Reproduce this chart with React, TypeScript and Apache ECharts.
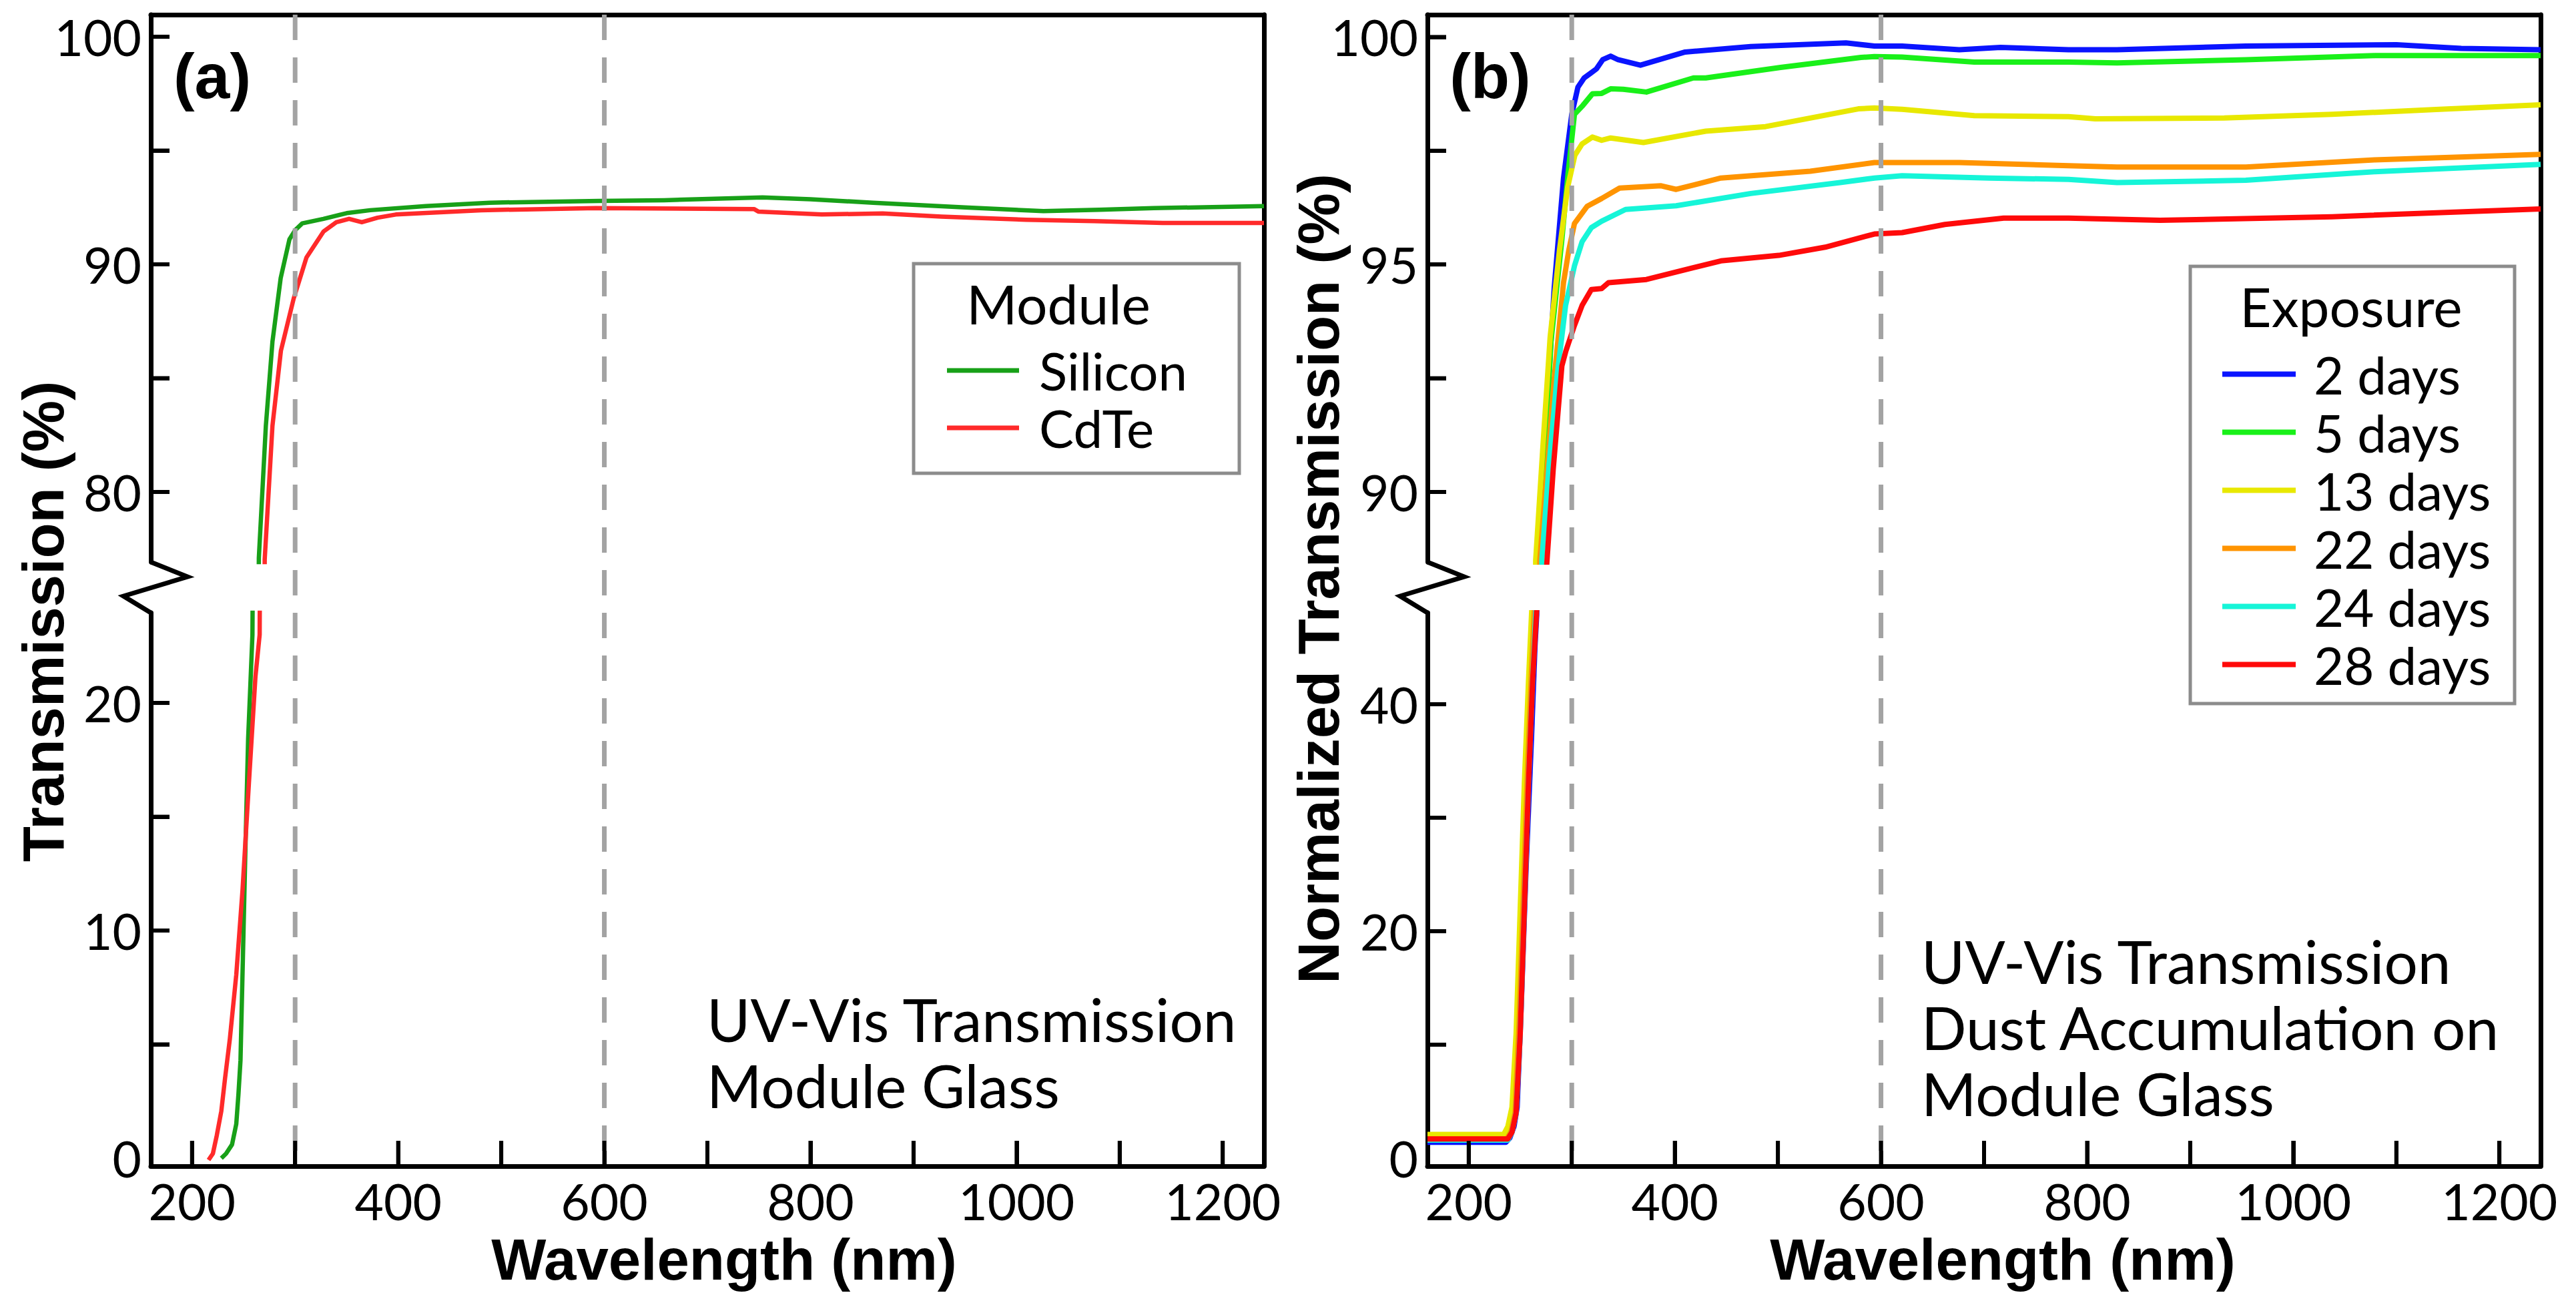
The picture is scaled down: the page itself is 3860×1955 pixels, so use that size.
import React, { useEffect, useRef } from "react";
import * as echarts from "echarts";

// ---------------- data ----------------
const wavelengthRange = [160, 1240];
const wavelengthTicks = [200, 300, 400, 500, 600, 700, 800, 900, 1000, 1100, 1200];
const wavelengthLabels = [200, 400, 600, 800, 1000, 1200];
const markerWavelengths = [300, 600];

const panelAUpperRange = [76.92, 100.97];
const panelAUpperTicks = [80, 85, 90, 95, 100];
const panelAUpperLabels = [80, 90, 100];
const panelALowerRange = [-0.35, 23.96];
const panelALowerTicks = [5, 10, 15, 20];
const panelALowerLabels = [0, 10, 20];

const panelBUpperRange = [88.46, 100.49];
const panelBUpperTicks = [90, 92.5, 95, 97.5, 100];
const panelBUpperLabels = [90, 95, 100];
const panelBLowerRange = [-0.7, 48.06];
const panelBLowerTicks = [10, 20, 30, 40];
const panelBLowerLabels = [0, 20, 40];

const moduleNames = ["Silicon", "CdTe"];
const moduleColors = ["#18a018", "#ff2a2a"];

const silicon = [
  [228.4, 0.0], [233, 0.2], [238.8, 0.6], [242.9, 1.5], [245, 2.8], [247, 4.3], [249.9, 9.9],
  [252, 14.0], [254.4, 18.4], [258.6, 23.0], [264.8, 77.1], [271.6, 82.9], [278, 86.6],
  [286, 89.4], [294.5, 91.1], [300, 91.5], [306.9, 91.8], [327.5, 92.0], [350, 92.25],
  [372.9, 92.38], [426.7, 92.56], [488.6, 92.71], [595, 92.79], [658, 92.82], [753.5, 92.94],
  [800, 92.86], [860.8, 92.71], [950, 92.5], [1026, 92.34], [1080, 92.4], [1133, 92.47],
  [1240, 92.56],
];
const cdte = [
  [216, -0.08], [220.2, 0.2], [224, 1.0], [228.4, 2.07], [232, 3.5], [236.7, 5.25],
  [242.9, 8.06], [249, 11.8], [255.2, 16.5], [261.5, 21.15], [265.6, 23.0], [270.5, 77.04],
  [278, 82.9], [286.2, 86.2], [298.6, 88.5], [311, 90.3], [327.5, 91.44], [340, 91.85],
  [352.3, 92.0], [364.7, 91.85], [380, 92.05], [397.7, 92.19], [480.4, 92.38], [592, 92.47],
  [745.2, 92.43], [749.4, 92.32], [811, 92.19], [870, 92.24], [927, 92.1], [1009.6, 91.96],
  [1075.6, 91.9], [1141.7, 91.82], [1240, 91.82],
];

const exposureNames = ["2 days", "5 days", "13 days", "22 days", "24 days", "28 days"];
const exposureColors = ["#0a14ff", "#19f019", "#e8e800", "#ff9400", "#16f5d8", "#ff0a0a"];

const days2 = [
  [160, 1.4], [236, 1.4], [240, 1.8], [244, 2.8], [247, 4.5], [251, 13.5], [255.6, 25.4],
  [261, 37.2], [264.3, 45.1], [266, 47.9], [268, 88.6], [275, 91.5], [283, 94.5], [292, 96.9],
  [300, 98.3], [306, 98.9], [312, 99.1], [318, 99.2], [324, 99.3], [330, 99.5], [337.7, 99.58],
  [345, 99.5], [366.6, 99.38], [410, 99.67], [473.6, 99.79], [566, 99.87], [593.6, 99.8],
  [620.5, 99.8], [676, 99.72], [716, 99.77], [782, 99.72], [829, 99.72], [954, 99.8],
  [1100, 99.83], [1163, 99.75], [1240, 99.72],
];
const days5 = [
  [160, 1.7], [236, 1.7], [240, 2.3], [244, 4.0], [248, 12], [252, 24], [256, 34], [260, 43],
  [263, 49], [265.5, 88.5], [273.7, 90.5], [279.8, 93.3], [290.2, 95.5], [296.4, 97.0],
  [302.6, 98.3], [310.9, 98.5], [320, 98.75], [329, 98.76], [337.7, 98.86], [350, 98.85],
  [372.4, 98.79], [418, 99.1], [430, 99.1], [502.6, 99.33], [580.6, 99.55], [593.6, 99.57],
  [620.5, 99.56], [690.5, 99.45], [782, 99.45], [829, 99.43], [954, 99.5], [1079, 99.59],
  [1240, 99.59],
];
const days13 = [
  [160, 2.1], [234, 2.1], [238, 2.8], [242, 4.5], [246, 11], [250, 22], [254, 33], [258, 42],
  [262, 50], [265, 88.5], [272, 91.0], [279, 93.4], [288, 95.3], [296, 96.7], [303, 97.4],
  [310, 97.65], [320, 97.8], [329, 97.73], [337.7, 97.78], [369.5, 97.68], [430, 97.93],
  [488, 98.03], [578, 98.42], [593.6, 98.44], [620.5, 98.41], [690.5, 98.27], [782, 98.25],
  [808, 98.2], [933, 98.22], [1037.6, 98.3], [1142, 98.41], [1240, 98.51],
];
const days22 = [
  [160, 1.7], [237, 1.7], [241, 2.3], [245, 4.0], [249, 12], [253, 23], [257, 34], [261, 43],
  [265, 51], [269, 88.5], [276, 90.5], [283, 92.5], [292, 94.6], [297, 95.3], [302.6, 95.9],
  [315, 96.28], [329, 96.45], [346.4, 96.68], [386.7, 96.73], [401.3, 96.65], [444.7, 96.9],
  [531.4, 97.05], [593.6, 97.24], [676, 97.24], [782, 97.17], [829, 97.14], [954, 97.14],
  [1079, 97.3], [1240, 97.42],
];
const days24 = [
  [160, 1.6], [238, 1.6], [242, 2.3], [246, 4.0], [250, 11], [254, 22], [258, 33], [262, 42],
  [266, 50], [271, 88.5], [278, 90.6], [286, 92.6], [294, 94.1], [302.6, 94.97], [310, 95.5],
  [319, 95.81], [329, 95.95], [352.2, 96.21], [401.3, 96.29], [473.6, 96.56], [560.3, 96.8],
  [593.6, 96.9], [620.5, 96.95], [704.7, 96.9], [782, 96.87], [829, 96.8], [954, 96.85],
  [1079, 97.04], [1240, 97.2],
];
const days28 = [
  [160, 1.7], [238, 1.7], [242, 2.3], [246, 4.0], [250, 11], [254, 22], [258, 33], [262, 42],
  [267, 50], [275.7, 88.4], [282, 90.5], [290.4, 92.77], [294.3, 93.1], [302.6, 93.66],
  [310, 94.1], [319, 94.45], [329, 94.47], [335.6, 94.6], [372.4, 94.67], [418.3, 94.93],
  [444.7, 95.08], [500.9, 95.2], [545.9, 95.38], [593.6, 95.67], [620.5, 95.7], [662, 95.88],
  [719, 96.02], [782, 96.02], [870.8, 95.97], [1037.6, 96.05], [1240, 96.22],
];
const exposureData = [days2, days5, days13, days22, days24, days28];

// ---------------- layout / style ----------------
const SANS = "Lato, 'Noto Sans', sans-serif";
const BOLD = "'Liberation Sans', Arial, sans-serif";
const AXIS_W = 7;
const X_TICK_LEN = 38; // px
const Y_TICK_LEN = 28; // px
const TICK_W = 6;
const PANEL_A = { left: 226, width: 1668 };
const PANEL_B = { left: 2139, width: 1668 };
const UPPER = { top: 22, height: 820 };
const LOWER = { top: 918, height: 829 };
const FULL = { top: 22, height: 1725 };

const plainNumber = (v: number) => String(v);

function grid(panel: any, band: any) {
  return { left: panel.left, width: panel.width, top: band.top, height: band.height, containLabel: false };
}

function xHidden(g: number) {
  return { type: "value", gridIndex: g, min: wavelengthRange[0], max: wavelengthRange[1], show: false };
}
function xBottom(g: number) {
  return {
    type: "value", gridIndex: g, min: wavelengthRange[0], max: wavelengthRange[1], position: "bottom",
    axisLine: { show: true, onZero: false, lineStyle: { color: "#000", width: AXIS_W } },
    axisTick: {
      show: true, inside: true, length: X_TICK_LEN, customValues: wavelengthTicks,
      lineStyle: { color: "#000", width: TICK_W },
    },
    axisLabel: {
      show: true, customValues: wavelengthLabels, formatter: plainNumber,
      fontFamily: SANS, fontSize: 75, color: "#000", margin: 14,
    },
    splitLine: { show: false },
  };
}
function xTop(g: number) {
  return {
    type: "value", gridIndex: g, min: wavelengthRange[0], max: wavelengthRange[1], position: "top",
    axisLine: { show: true, onZero: false, lineStyle: { color: "#000", width: AXIS_W } },
    axisTick: { show: false }, axisLabel: { show: false }, splitLine: { show: false },
  };
}
function yLeft(g: number, range: number[], ticks: number[], labels: number[]) {
  return {
    type: "value", gridIndex: g, min: range[0], max: range[1], position: "left",
    axisLine: { show: true, onZero: false, lineStyle: { color: "#000", width: AXIS_W } },
    axisTick: {
      show: true, inside: true, length: Y_TICK_LEN, customValues: ticks,
      lineStyle: { color: "#000", width: TICK_W },
    },
    axisLabel: {
      show: true, customValues: labels, formatter: plainNumber,
      fontFamily: SANS, fontSize: 75, color: "#000", margin: 14,
    },
    splitLine: { show: false },
  };
}
function yRight(g: number) {
  return {
    type: "value", gridIndex: g, min: 0, max: 1, position: "right",
    axisLine: { show: true, onZero: false, lineStyle: { color: "#000", width: AXIS_W } },
    axisTick: { show: false }, axisLabel: { show: false }, splitLine: { show: false },
  };
}

function curve(name: string, data: number[][], color: string, width: number, idx: number) {
  return {
    type: "line", name, data, xAxisIndex: idx, yAxisIndex: idx, symbol: "none", showSymbol: false,
    clip: true, silent: true, color, itemStyle: { color },
    lineStyle: { color, width, join: "round", cap: "butt" }, z: 2,
  };
}
function marker(x: number, idx: number) {
  return {
    type: "line", data: [[x, 1], [x, 0]], xAxisIndex: idx, yAxisIndex: idx, symbol: "none",
    silent: true, lineStyle: { color: "#a3a3a3", width: 7, type: [38, 26] }, z: 5,
  };
}

function txt(text: string, x: number, y: number, size: number, opts: any = {}) {
  return {
    type: "text", x, y, rotation: opts.rotation || 0, z: 10,
    style: {
      text, fill: "#000", fontSize: size, fontFamily: opts.bold ? BOLD : SANS,
      fontWeight: opts.bold ? "bold" : "normal", align: opts.align || "left",
      verticalAlign: "middle", lineHeight: opts.lineHeight,
    },
  };
}

// inward tick bars following the same linear mapping as the value axes
function tickRects() {
  const out: any[] = [];
  const span = wavelengthRange[1] - wavelengthRange[0];
  const px = (panel: any, v: number) => panel.left + ((v - wavelengthRange[0]) / span) * panel.width;
  const py = (band: any, range: number[], v: number) =>
    band.top + band.height - ((v - range[0]) / (range[1] - range[0])) * band.height;
  const bar = (x: number, y: number, w: number, h: number) =>
    out.push({ type: "rect", z: 20, silent: true, shape: { x, y, width: w, height: h }, style: { fill: "#000" } });
  [PANEL_A, PANEL_B].forEach((panel) =>
    wavelengthTicks.forEach((v) =>
      bar(px(panel, v) - TICK_W / 2, LOWER.top + LOWER.height - X_TICK_LEN, TICK_W, X_TICK_LEN)
    )
  );
  const yBars = (panel: any, band: any, range: number[], ticks: number[]) =>
    ticks.forEach((v) => bar(panel.left, py(band, range, v) - TICK_W / 2, Y_TICK_LEN, TICK_W));
  yBars(PANEL_A, UPPER, panelAUpperRange, panelAUpperTicks);
  yBars(PANEL_A, LOWER, panelALowerRange, panelALowerTicks);
  yBars(PANEL_B, UPPER, panelBUpperRange, panelBUpperTicks);
  yBars(PANEL_B, LOWER, panelBLowerRange, panelBLowerTicks);
  return out;
}

function allGraphics() {
  const zigzag = (x0: number) => ({
    type: "polyline", z: 10,
    shape: { points: [[x0, 842], [x0 + 55, 864], [x0 - 41, 893], [x0, 918]] },
    style: { stroke: "#000", lineWidth: AXIS_W, fill: null, lineJoin: "miter" },
  });
  return [
    { type: "rect", z: 8, shape: { x: 1369, y: 395, width: 488, height: 314 }, style: { fill: "#fff", stroke: "#8c8c8c", lineWidth: 5 } },
    { type: "rect", z: 8, shape: { x: 3282, y: 399, width: 486, height: 655 }, style: { fill: "#fff", stroke: "#8c8c8c", lineWidth: 5 } },
    zigzag(PANEL_A.left),
    zigzag(PANEL_B.left),
    ...tickRects(),
    txt("Module", 1586, 454, 82, { align: "center" }),
    txt("Exposure", 3523, 458, 82, { align: "center" }),
    txt("(a)", 318, 114, 95, { bold: true, align: "center" }),
    txt("(b)", 2233, 114, 95, { bold: true, align: "center" }),
    txt("UV-Vis Transmission\nModule Glass", 1059, 1576, 89, { lineHeight: 99 }),
    txt("UV-Vis Transmission\nDust Accumulation on\nModule Glass", 2879, 1538, 89, { lineHeight: 99 }),
    txt("Wavelength (nm)", 1085, 1886, 87, { bold: true, align: "center" }),
    txt("Wavelength (nm)", 3001, 1886, 87, { bold: true, align: "center" }),
    txt("Transmission (%)", 64, 931, 87, { bold: true, align: "center", rotation: Math.PI / 2 }),
    txt("Normalized Transmission (%)", 1975, 867, 87, { bold: true, align: "center", rotation: Math.PI / 2 }),
  ];
}

function buildOption() {
  const series: any[] = [];
  moduleNames.forEach((n, i) => {
    const d = i === 0 ? silicon : cdte;
    series.push(curve(n, d, moduleColors[i], 6.5, 0));
    series.push(curve(n, d, moduleColors[i], 6.5, 1));
  });
  exposureNames.forEach((n, i) => {
    series.push(curve(n, exposureData[i], exposureColors[i], 8, 3));
    series.push(curve(n, exposureData[i], exposureColors[i], 8, 4));
  });
  markerWavelengths.forEach((w) => {
    series.push(marker(w, 2));
    series.push(marker(w, 5));
  });

  return {
    animation: false,
    backgroundColor: "#fff",
    textStyle: { fontFamily: SANS },
    grid: [
      grid(PANEL_A, UPPER), grid(PANEL_A, LOWER), grid(PANEL_A, FULL),
      grid(PANEL_B, UPPER), grid(PANEL_B, LOWER), grid(PANEL_B, FULL),
    ],
    xAxis: [xHidden(0), xBottom(1), xTop(2), xHidden(3), xBottom(4), xTop(5)],
    yAxis: [
      yLeft(0, panelAUpperRange, panelAUpperTicks, panelAUpperLabels),
      yLeft(1, panelALowerRange, panelALowerTicks, panelALowerLabels),
      yRight(2),
      yLeft(3, panelBUpperRange, panelBUpperTicks, panelBUpperLabels),
      yLeft(4, panelBLowerRange, panelBLowerTicks, panelBLowerLabels),
      yRight(5),
    ],
    legend: [
      {
        data: moduleNames, orient: "vertical", left: 1419, top: 512, icon: "rect",
        itemWidth: 108, itemHeight: 7, itemGap: 0, padding: 0, selectedMode: false, z: 12,
        textStyle: { fontFamily: SANS, fontSize: 78, color: "#000", lineHeight: 86, padding: [0, 0, 0, 25] },
      },
      {
        data: exposureNames, orient: "vertical", left: 3330, top: 517, icon: "rect",
        itemWidth: 110, itemHeight: 8, itemGap: 0, padding: 0, selectedMode: false, z: 12,
        textStyle: { fontFamily: SANS, fontSize: 78, color: "#000", lineHeight: 87, padding: [0, 0, 0, 22] },
      },
    ],
    graphic: allGraphics(),
    series,
  };
}

export default function App() {
  const ref = useRef<HTMLDivElement>(null);
  useEffect(() => {
    if (!ref.current) return;
    const chart = echarts.init(ref.current, null, { renderer: "svg" });
    chart.setOption(buildOption() as any);
    return () => chart.dispose();
  }, []);
  return (
    <div
      ref={ref}
      style={{ position: "fixed", left: 0, top: 0, width: "3860px", height: "1955px", background: "#fff" }}
    />
  );
}
